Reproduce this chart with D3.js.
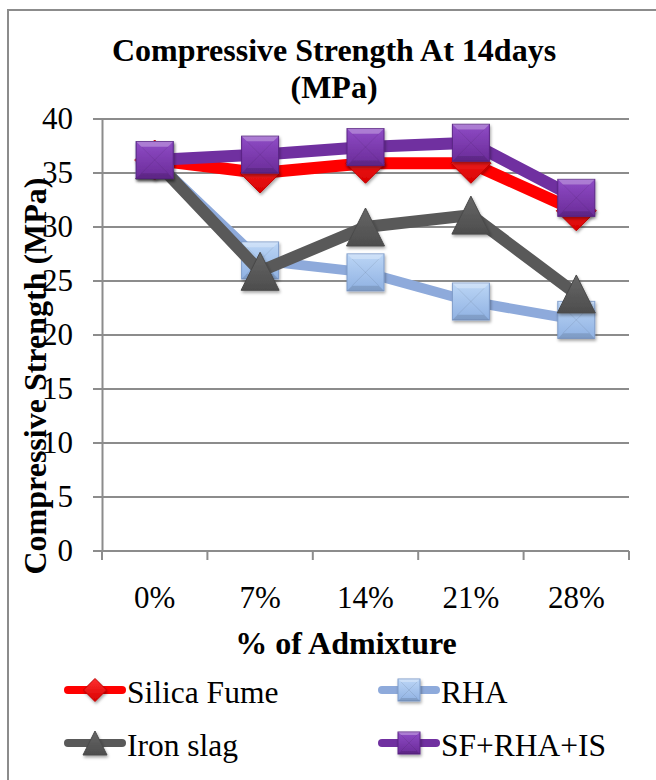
<!DOCTYPE html>
<html>
<head>
<meta charset="utf-8">
<script src="https://cdn.jsdelivr.net/npm/d3@7"></script>
<style>
  html, body { margin: 0; padding: 0; background: #fff; }
  svg { display: block; }
  text { font-family: "Liberation Serif", "Times New Roman", serif; fill: #000; }
</style>
</head>
<body>
<div id="chart"></div>
<script>
// Compressive strength at 14 days for each admixture percentage
const categories = ["0%", "7%", "14%", "21%", "28%"];
const silicaFume = [36.2, 35.0, 35.9, 35.9, 31.5];
const rha        = [36.2, 26.9, 25.8, 23.1, 21.4];
const ironSlag   = [36.2, 25.9, 30.0, 31.1, 23.8];
const combined   = [36.2, 36.7, 37.4, 37.8, 32.7];
const yTicks = [0, 5, 10, 15, 20, 25, 30, 35, 40];

const seriesNames = ["Silica Fume", "RHA", "Iron slag", "SF+RHA+IS"];
const seriesValues = [silicaFume, rha, ironSlag, combined];

const styles = [
  { line: "#ff0000", width: 12, shape: "diamond", grad: "gRed",    stroke: "#c00000" },
  { line: "#8eaadb", width: 10, shape: "square",  grad: "gBlue",   stroke: "#7f9cc9" },
  { line: "#595959", width: 12, shape: "triangle",grad: "gGray",   stroke: "#4a4a4a" },
  { line: "#7030a0", width: 12, shape: "square",  grad: "gPurple", stroke: "#5a2585" }
];

const W = 656, H = 780;
const plot = { left: 102, right: 629, top: 119, bottom: 551 };
const serif = '"Liberation Serif", "Times New Roman", serif';

const svg = d3.select("#chart").append("svg")
  .attr("width", W).attr("height", H);

// gradients and shadow for bevelled markers
const defs = svg.append("defs");
function grad(id, c1, c2) {
  const g = defs.append("linearGradient").attr("id", id)
    .attr("x1", 0).attr("y1", 0).attr("x2", 0).attr("y2", 1);
  g.append("stop").attr("offset", "0%").attr("stop-color", c1);
  g.append("stop").attr("offset", "100%").attr("stop-color", c2);
}
grad("gRed", "#ff3030", "#d80000");
grad("gBlue", "#bcd6f6", "#8fb1e2");
grad("gGray", "#666666", "#4d4d4d");
grad("gPurple", "#8f4cc6", "#6a2b98");
const sh = defs.append("filter").attr("id", "shadow")
  .attr("x", "-30%").attr("y", "-30%").attr("width", "160%").attr("height", "160%");
sh.append("feDropShadow").attr("dx", 1).attr("dy", 2)
  .attr("stdDeviation", 1.6).attr("flood-color", "#000").attr("flood-opacity", 0.35);

// outer frame
svg.append("rect")
  .attr("x", 8).attr("y", 10).attr("width", W + 20).attr("height", H + 20)
  .attr("fill", "none").attr("stroke", "#8c8c8c").attr("stroke-width", 2);

// title
const title = svg.append("text")
  .attr("text-anchor", "middle").attr("font-weight", "bold").attr("font-size", 32);
title.append("tspan").attr("x", 334).attr("y", 61).text("Compressive Strength At 14days");
title.append("tspan").attr("x", 334).attr("y", 98).text("(MPa)");

const x = d3.scaleBand().domain(categories).range([plot.left, plot.right]);
const y = d3.scaleLinear().domain([0, 40]).range([plot.bottom, plot.top]);

// horizontal gridlines
svg.append("g").selectAll("line").data(yTicks).join("line")
  .attr("x1", plot.left - 9).attr("x2", plot.right)
  .attr("y1", d => y(d)).attr("y2", d => y(d))
  .attr("stroke", "#8c8c8c").attr("stroke-width", 2);

// y axis
const yAxis = svg.append("g").attr("transform", `translate(${plot.left},0)`)
  .call(d3.axisLeft(y).tickValues(yTicks).tickSize(0).tickPadding(29));
yAxis.select(".domain").attr("stroke", "#8c8c8c").attr("stroke-width", 2);
yAxis.selectAll("text").attr("font-size", 31)
  .style("font-family", serif).attr("fill", "#000");

// x axis
const xAxis = svg.append("g").attr("transform", `translate(0,${plot.bottom})`)
  .call(d3.axisBottom(x).tickSize(0).tickPadding(0));
xAxis.select(".domain").remove();
xAxis.selectAll("text").attr("font-size", 31).attr("dy", null).attr("y", 57)
  .style("font-family", serif).attr("fill", "#000");
const edges = categories.map(c => x(c)).concat([plot.right]);
svg.append("g").selectAll("line").data(edges).join("line")
  .attr("x1", d => d).attr("x2", d => d)
  .attr("y1", plot.bottom).attr("y2", plot.bottom + 9)
  .attr("stroke", "#8c8c8c").attr("stroke-width", 2);

// axis titles
svg.append("text").attr("x", 346).attr("y", 654)
  .attr("text-anchor", "middle").attr("font-weight", "bold").attr("font-size", 32)
  .text("% of Admixture");
svg.append("text").attr("transform", "translate(46,376) rotate(-90)")
  .attr("text-anchor", "middle").attr("font-weight", "bold").attr("font-size", 32)
  .text("Compressive Strength (MPa)");

// marker drawing
function marker(g, shape, s, st) {
  const h = s / 2;
  const m = g.append("g").attr("filter", "url(#shadow)");
  if (shape === "square") {
    m.append("rect").attr("x", -h).attr("y", -h).attr("width", s).attr("height", s)
      .attr("fill", `url(#${st.grad})`).attr("stroke", st.stroke).attr("stroke-width", 1);
    // bevel facets
    const inset = h * 0.72;
    m.append("path").attr("d", `M${-h},${-h}L${h},${-h}L${inset},${-inset}L${-inset},${-inset}Z`)
      .attr("fill", "#fff").attr("opacity", 0.28);
    m.append("path").attr("d", `M${-h},${h}L${h},${h}L${inset},${inset}L${-inset},${inset}Z`)
      .attr("fill", "#000").attr("opacity", 0.12);
    m.append("path").attr("d", `M${-inset},${-inset}L${inset},${inset}M${inset},${-inset}L${-inset},${inset}`)
      .attr("stroke", "#000").attr("stroke-opacity", 0.08).attr("stroke-width", 1);
  } else if (shape === "triangle") {
    m.append("path").attr("d", `M0,${-h}L${h},${h}L${-h},${h}Z`)
      .attr("fill", `url(#${st.grad})`).attr("stroke", st.stroke).attr("stroke-width", 1);
  } else {
    m.append("path").attr("d", `M0,${-h}L${h},0L0,${h}L${-h},0Z`)
      .attr("fill", `url(#${st.grad})`).attr("stroke", st.stroke).attr("stroke-width", 1);
  }
}

const cx = c => x(c) + x.bandwidth() / 2;
const markerSize = { square: 37, triangle: 38, diamond: 40 };

seriesValues.forEach((vals, i) => {
  const st = styles[i];
  const pts = categories.map((c, j) => [cx(c), y(vals[j])]);
  const g = svg.append("g");
  g.append("path").attr("d", d3.line()(pts))
    .attr("fill", "none").attr("stroke", st.line).attr("stroke-width", st.width)
    .attr("stroke-linejoin", "round");
  pts.forEach(p => {
    const mg = g.append("g").attr("transform", `translate(${p[0]},${p[1]})`);
    marker(mg, st.shape, markerSize[st.shape], st);
  });
});

// legend
const legendPos = [
  { x: 68, y: 690 }, { x: 382, y: 690 },
  { x: 68, y: 743 }, { x: 382, y: 743 }
];
const legendSize = { square: 22, triangle: 24, diamond: 23 };
seriesNames.forEach((name, i) => {
  const st = styles[i];
  const p = legendPos[i];
  const g = svg.append("g").attr("transform", `translate(${p.x},${p.y})`);
  g.append("line").attr("x1", 0).attr("x2", 54).attr("y1", 0).attr("y2", 0)
    .attr("stroke", st.line).attr("stroke-width", 8).attr("stroke-linecap", "round");
  const mg = g.append("g").attr("transform", "translate(27,0)");
  marker(mg, st.shape, legendSize[st.shape], st);
  g.append("text").attr("x", 59).attr("y", 13).attr("font-size", 31.5).text(name);
});
</script>
</body>
</html>
